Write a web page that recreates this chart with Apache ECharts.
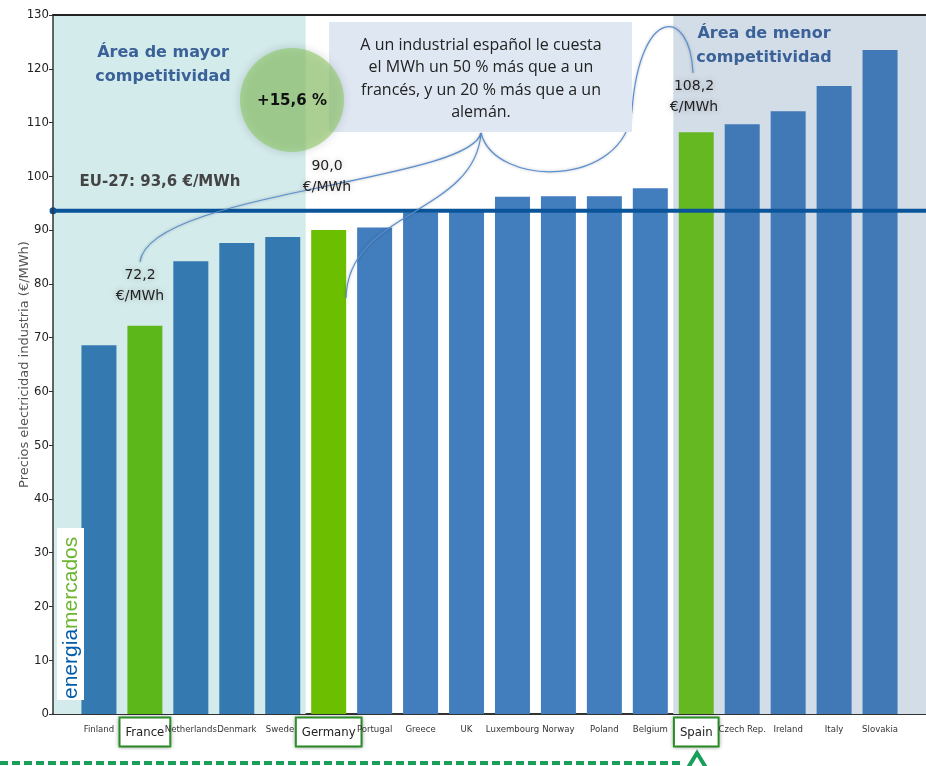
<!DOCTYPE html>
<html>
<head>
    <meta charset="utf-8">
    <title>Precios electricidad industria</title>
    <script src="https://cdn.jsdelivr.net/npm/echarts@6/dist/echarts.min.js"></script>
    <style>
        body { margin: 0; background: #fff; }
        #chart { width: 926px; height: 766px; }
    </style>
</head>
<body>
    <div id="chart"></div>
    <script>
        // datos
        var categories = ['Finland', 'France', 'Netherlands', 'Denmark', 'Sweden', 'Germany', 'Portugal', 'Greece', 'UK',
            'Luxembourg', 'Norway', 'Poland', 'Belgium', 'Spain', 'Czech Rep.', 'Ireland', 'Italy', 'Slovakia'];
        var prices = [68.6, 72.2, 84.2, 87.6, 88.7, 90.0, 90.5, 93.3, 93.4,
            96.2, 96.3, 96.3, 97.8, 108.2, 109.7, 112.1, 116.8, 123.5];
        var highlighted = ['France', 'Germany', 'Spain'];
        var euAverage = 93.6;
        var yTicks = { min: 0, max: 130, interval: 10 };

        var narrow = "'Liberation Sans Narrow', 'DejaVu Sans Condensed', sans-serif";
        var wide = "'DejaVu Sans', sans-serif";
        var greens = { France: '#5cb81a', Germany: '#6bbf00', Spain: '#66b822' };
        var n = categories.length;

        function barColor(name, i) {
            if (greens[name]) return greens[name];
            if (i < 5) return '#3479b0';
            if (i >= 13) return '#4179b6';
            return '#427dbe';
        }

        var barData = categories.map(function (c, i) {
            return { value: [i + 1, prices[i]], itemStyle: { color: barColor(c, i) } };
        });
        var centers = categories.map(function (c, i) { return i + 1; });

        var chart = echarts.init(document.getElementById('chart'));

        var shadowLine = { stroke: '#5a8fd0', lineWidth: 1.2, fill: null, shadowBlur: 3, shadowColor: 'rgba(0,0,0,0.3)' };
        var valueLabel = { textAlign: 'center', textVerticalAlign: 'middle', fontFamily: wide, fontSize: 14, lineHeight: 21,
            fill: '#222', textShadowBlur: 6, textShadowColor: 'rgba(0,0,0,0.25)' };

        var option = {
            animation: false,
            grid: { left: 53, right: 0, top: 15, bottom: 52, outerBoundsMode: 'none', containLabel: false },
            xAxis: [{
                type: 'value', min: 0, max: n + 1, interval: 1,
                axisLine: { lineStyle: { color: '#333', width: 2 } },
                axisTick: { show: true, inside: true, length: 4, customValues: centers, lineStyle: { color: '#333' } },
                splitLine: { show: false },
                axisLabel: {
                    customValues: centers,
                    margin: 8,
                    fontFamily: narrow, fontSize: 9.5, color: '#333', lineHeight: 16,
                    formatter: function (v) {
                        var name = categories[v - 1];
                        if (!name) return '';
                        return highlighted.indexOf(name) >= 0 ? '{hl|' + name + '}' : name;
                    },
                    rich: {
                        hl: {
                            fontFamily: narrow, fontSize: 13, color: '#222', lineHeight: 20,
                            padding: [8, 5, 6, 5], borderColor: '#2e9a2a', borderWidth: 2,
                            backgroundColor: '#fff', shadowBlur: 4, shadowColor: 'rgba(0,0,0,0.3)'
                        }
                    }
                }
            }, {
                type: 'value', min: 0, max: n + 1, position: 'top', z: 10,
                axisLine: { show: true, lineStyle: { color: '#222', width: 2 } },
                axisTick: { show: false }, axisLabel: { show: false }, splitLine: { show: false }
            }],
            yAxis: {
                type: 'value', min: yTicks.min, max: yTicks.max, interval: yTicks.interval, z: 10,
                name: 'Precios electricidad industria (€/MWh)',
                nameLocation: 'middle', nameGap: 22, nameMoveOverlap: false,
                nameTextStyle: { fontFamily: wide, fontSize: 13, color: '#555' },
                axisLine: { show: true, lineStyle: { color: '#333', width: 1.5 } },
                axisTick: { show: true, length: 4, lineStyle: { color: '#333' } },
                splitLine: { show: false },
                axisLabel: { fontFamily: narrow, fontSize: 13, color: '#222', margin: 4 }
            },
            series: [{
                type: 'line', data: [], z: 0, silent: true,
                markArea: {
                    silent: true,
                    data: [
                        [{ xAxis: 0, itemStyle: { color: '#d4ebeb' } }, { xAxis: 5.5 }],
                        [{ xAxis: 13.5, itemStyle: { color: '#d3dde8' } }, { xAxis: n + 1 }]
                    ]
                }
            }, {
                type: 'bar', barWidth: 35, z: 2,
                data: barData
            }, {
                type: 'line', z: 5, silent: true,
                lineStyle: { color: '#0a559a', width: 4 },
                data: [
                    { value: [0, euAverage], symbol: 'circle', symbolSize: 7, itemStyle: { color: '#0a559a' } },
                    { value: [n + 1, euAverage], symbol: 'none' }
                ]
            }],
            graphic: [
                // cuadro de texto
                { type: 'rect', z: 50, shape: { x: 329, y: 22, width: 303, height: 110 }, style: { fill: '#dfe8f2' } },
                { type: 'text', z: 51, style: { text: 'A un industrial español le cuesta\nel MWh un 50 % más que a un\nfrancés, y un 20 % más que a un\nalemán.',
                    x: 481, y: 79, textAlign: 'center', textVerticalAlign: 'middle', fontFamily: "'Open Sans', sans-serif",
                    fontSize: 16, lineHeight: 22.5, fill: '#222' } },
                // círculo
                { type: 'circle', z: 52, shape: { cx: 292, cy: 100, r: 52 },
                    style: { fill: 'rgba(140,200,100,0.6)', shadowBlur: 10, shadowColor: 'rgba(0,0,0,0.25)' } },
                { type: 'text', z: 53, style: { text: '+15,6 %', x: 292, y: 101, textAlign: 'center', textVerticalAlign: 'middle',
                    fontFamily: wide, fontWeight: 'bold', fontSize: 15, fill: '#111' } },
                // títulos de zona
                { type: 'text', z: 50, style: { text: 'Área de mayor\ncompetitividad', x: 163, y: 65, textAlign: 'center',
                    textVerticalAlign: 'middle', fontFamily: wide, fontWeight: 'bold', fontSize: 16, lineHeight: 24, fill: '#3b6298' } },
                { type: 'text', z: 50, style: { text: 'Área de menor\ncompetitividad', x: 764, y: 46, textAlign: 'center',
                    textVerticalAlign: 'middle', fontFamily: wide, fontWeight: 'bold', fontSize: 16, lineHeight: 24, fill: '#3b6298' } },
                { type: 'text', z: 50, style: { text: 'EU-27: 93,6 €/MWh', x: 160, y: 182, textAlign: 'center',
                    textVerticalAlign: 'middle', fontFamily: wide, fontWeight: 'bold', fontSize: 15, fill: '#444' } },
                // etiquetas
                { type: 'text', z: 50, style: Object.assign({ text: '72,2\n€/MWh', x: 140, y: 286 }, valueLabel) },
                { type: 'text', z: 50, style: Object.assign({ text: '90,0\n€/MWh', x: 327, y: 177 }, valueLabel) },
                { type: 'text', z: 50, style: Object.assign({ text: '108,2\n€/MWh', x: 694, y: 97 }, valueLabel) },
                // llamadas
                { type: 'bezierCurve', z: 49, shape: { x1: 481, y1: 133, cpx1: 470, cpy1: 182, cpx2: 148, cpy2: 192, x2: 140, y2: 262 }, style: shadowLine },
                { type: 'bezierCurve', z: 49, shape: { x1: 481, y1: 133, cpx1: 475, cpy1: 215, cpx2: 348, cpy2: 210, x2: 346, y2: 298 }, style: shadowLine },
                { type: 'bezierCurve', z: 49, shape: { x1: 481, y1: 133, cpx1: 495, cpy1: 188, cpx2: 625, cpy2: 188, x2: 632, y2: 110 }, style: shadowLine },
                { type: 'bezierCurve', z: 49, shape: { x1: 632, y1: 110, cpx1: 640, cpy1: 6, cpx2: 690, cpy2: 6, x2: 693, y2: 73 }, style: shadowLine },
                // logo
                { type: 'rect', z: 40, shape: { x: 57, y: 528, width: 27, height: 172 }, style: { fill: '#fff' } },
                { type: 'text', z: 41, x: 71, y: 699, rotation: Math.PI / 2,
                    style: { text: '{b|energia}{g|mercados}', textAlign: 'left', textVerticalAlign: 'middle',
                        rich: { b: { fontFamily: "'Liberation Sans', sans-serif", fontSize: 21, fill: '#005ca8' },
                                g: { fontFamily: "'Liberation Sans', sans-serif", fontSize: 21, fill: '#6cb52f' } } } },
                // línea discontinua inferior
                { type: 'line', z: 40, shape: { x1: 0, y1: 763, x2: 680, y2: 763 },
                    style: { stroke: '#1a9f5a', lineWidth: 4, lineDash: [8, 4] } },
                { type: 'polygon', z: 41, shape: { points: [[697, 753], [686, 771], [708, 771]] },
                    style: { fill: '#fff', stroke: '#1a9f5a', lineWidth: 4 } }
            ]
        };

        chart.setOption(option);
    </script>
</body>
</html>
